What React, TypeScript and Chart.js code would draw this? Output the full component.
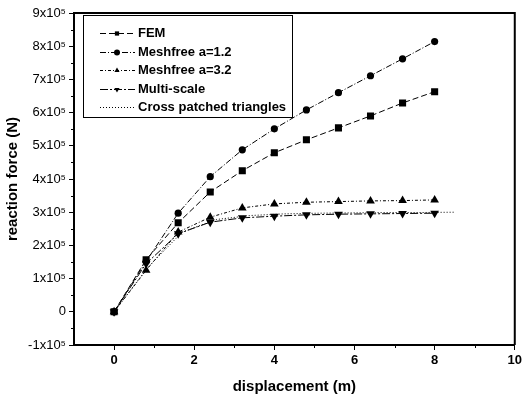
import React, { useEffect, useRef } from "react";
import { Chart, registerables } from "chart.js";

Chart.register(...registerables);

// ---- data ----
const displacement = [0, 0.8, 1.6, 2.4, 3.2, 4.0, 4.8, 5.6, 6.4, 7.2, 8.0];
const femForce = [0, 157000, 268000, 361000, 425000, 479000, 518000, 554000, 590000, 629000, 663000];
const meshfree12Force = [0, 152000, 297000, 407000, 488000, 551000, 608000, 660000, 711000, 762000, 814000];
const meshfree32Force = [0, 125000, 240000, 285000, 313000, 325000, 330000, 332000, 334000, 335000, 337000];
const multiScaleForce = [0, 145000, 235000, 270000, 283000, 288000, 292000, 294000, 295000, 296000, 297000];
const crossDisplacement = [0, 0.85, 1.7, 2.55, 3.4, 4.25, 5.1, 5.95, 6.8, 7.65, 8.5];
const crossForce = [0, 135000, 240000, 278000, 290000, 295000, 297000, 298000, 299000, 299000, 300000];

const seriesNames = ["FEM", "Meshfree a=1.2", "Meshfree a=3.2", "Multi-scale", "Cross patched triangles"];

const xTickValues = [0, 2, 4, 6, 8, 10];
const xTickLabels = ["0", "2", "4", "6", "8", "10"];
const xMinorTicks = [1, 3, 5, 7, 9];
const yTickValues = [-100000, 0, 100000, 200000, 300000, 400000, 500000, 600000, 700000, 800000, 900000];
const yTickLabels = ["-1x10⁵", "0", "1x10⁵", "2x10⁵", "3x10⁵", "4x10⁵", "5x10⁵", "6x10⁵", "7x10⁵", "8x10⁵", "9x10⁵"];
const yMinorTicks = [-50000, 50000, 150000, 250000, 350000, 450000, 550000, 650000, 750000, 850000];

const FONT = "'Liberation Sans', Arial, sans-serif";

const toPoints = (xs: number[], ys: number[]) => xs.map((x, i) => ({ x, y: ys[i] }));

function drawMarker(ctx: CanvasRenderingContext2D, style: string, rot: number, x: number, y: number, r: number) {
  ctx.save();
  ctx.setLineDash([]);
  ctx.fillStyle = "#000";
  ctx.beginPath();
  if (style === "rect") {
    const s = r * Math.SQRT1_2;
    ctx.rect(x - s, y - s, 2 * s, 2 * s);
  } else if (style === "circle") {
    ctx.arc(x, y, r, 0, Math.PI * 2);
  } else if (style === "triangle") {
    const d = rot === 180 ? -1 : 1;
    ctx.moveTo(x, y - d * r);
    ctx.lineTo(x + r * 0.866, y + d * r * 0.5);
    ctx.lineTo(x - r * 0.866, y + d * r * 0.5);
    ctx.closePath();
  }
  ctx.fill();
  ctx.restore();
}

const decorPlugin = {
  id: "decor",
  afterDraw(chart: any) {
    const { ctx, chartArea } = chart;
    const xs = chart.scales.x;
    const ys = chart.scales.y;
    ctx.save();
    ctx.strokeStyle = "#000";
    // frame top & right
    ctx.lineWidth = 2;
    ctx.beginPath();
    ctx.moveTo(chartArea.left, chartArea.top);
    ctx.lineTo(chartArea.right, chartArea.top);
    ctx.lineTo(chartArea.right, chartArea.bottom);
    ctx.stroke();
    // minor ticks
    ctx.lineWidth = 1;
    ctx.beginPath();
    xMinorTicks.forEach((v) => {
      const px = Math.round(xs.getPixelForValue(v)) + 0.5;
      ctx.moveTo(px, chartArea.bottom);
      ctx.lineTo(px, chartArea.bottom + 3);
    });
    yMinorTicks.forEach((v) => {
      const py = Math.round(ys.getPixelForValue(v)) + 0.5;
      ctx.moveTo(chartArea.left, py);
      ctx.lineTo(chartArea.left - 3, py);
    });
    ctx.stroke();

    // legend
    const left = chartArea.left + 9;
    const top = chartArea.top + 2;
    const w = 209;
    const h = 102;
    ctx.fillStyle = "#fff";
    ctx.fillRect(left, top, w, h);
    ctx.lineWidth = 1;
    ctx.strokeRect(left + 0.5, top + 0.5, w, h);
    ctx.font = `bold 13px ${FONT}`;
    ctx.textBaseline = "middle";
    ctx.textAlign = "left";
    chart.data.datasets.forEach((ds: any, i: number) => {
      const y = Math.round(top + 18 + i * 18.5) + 0.5;
      ctx.strokeStyle = "#000";
      ctx.lineWidth = 1;
      ctx.setLineDash(ds.borderDash || []);
      ctx.beginPath();
      ctx.moveTo(left + 17, y);
      ctx.lineTo(left + 52, y);
      ctx.stroke();
      ctx.setLineDash([]);
      if (ds.pointRadius > 0) {
        drawMarker(ctx, ds.pointStyle, ds.pointRotation || 0, left + 34, y, 3);
      }
      ctx.fillStyle = "#000";
      ctx.fillText(ds.label, left + 55, y);
    });
    ctx.restore();
  },
};

export default function App() {
  const ref = useRef<HTMLCanvasElement>(null);
  useEffect(() => {
    if (!ref.current) return;
    const common = {
      borderColor: "#000",
      backgroundColor: "#000",
      borderWidth: 1,
      pointBackgroundColor: "#000",
      pointBorderColor: "#000",
      pointBorderWidth: 0,
      showLine: true,
      tension: 0,
    };
    const chart = new Chart(ref.current, {
      type: "scatter",
      data: {
        datasets: [
          { ...common, label: seriesNames[0], data: toPoints(displacement, femForce), pointStyle: "rect", pointRadius: 5, borderDash: [6, 3] },
          { ...common, label: seriesNames[1], data: toPoints(displacement, meshfree12Force), pointStyle: "circle", pointRadius: 3.6, borderDash: [6, 2, 1, 2] },
          { ...common, label: seriesNames[2], data: toPoints(displacement, meshfree32Force), pointStyle: "triangle", pointRadius: 5, borderDash: [3, 2, 1, 2] },
          { ...common, label: seriesNames[3], data: toPoints(displacement, multiScaleForce), pointStyle: "triangle", pointRotation: 180, pointRadius: 5, borderDash: [8, 2, 2, 2] },
          { ...common, label: seriesNames[4], data: toPoints(crossDisplacement, crossForce), pointRadius: 0, borderDash: [1, 2] },
        ],
      },
      options: {
        animation: false,
        responsive: false,
        maintainAspectRatio: false,
        layout: { padding: { left: 0, top: 13, right: 8, bottom: 0 } },
        plugins: { legend: { display: false }, tooltip: { enabled: false } },
        scales: {
          x: {
            type: "linear",
            min: -1,
            max: 10,
            afterFit: (s: any) => { s.height = 56; },
            afterBuildTicks: (s: any) => { s.ticks = xTickValues.map((v) => ({ value: v })); },
            grid: { display: true, drawOnChartArea: false, drawTicks: true, tickLength: 5, color: "#000", lineWidth: 1 },
            border: { display: true, color: "#000", width: 2 },
            ticks: {
              color: "#000",
              padding: 3,
              maxRotation: 0,
              font: { family: FONT, size: 13, weight: "bold" },
              callback: (v: any) => { const i = xTickValues.indexOf(Number(v)); return i >= 0 ? xTickLabels[i] : ""; },
            },
            title: { display: true, text: "displacement (m)", color: "#000", font: { family: FONT, size: 15, weight: "bold" }, padding: { top: 0, bottom: 5 } },
          },
          y: {
            type: "linear",
            min: -100000,
            max: 900000,
            afterFit: (s: any) => { s.width = 74; },
            afterBuildTicks: (s: any) => { s.ticks = yTickValues.map((v) => ({ value: v })); },
            grid: { display: true, drawOnChartArea: false, drawTicks: true, tickLength: 5, color: "#000", lineWidth: 1 },
            border: { display: true, color: "#000", width: 2 },
            ticks: {
              color: "#000",
              padding: 3,
              font: { family: FONT, size: 13 },
              callback: (v: any) => { const i = yTickValues.indexOf(Number(v)); return i >= 0 ? yTickLabels[i] : ""; },
            },
            title: { display: true, text: "reaction force (N)", color: "#000", font: { family: FONT, size: 15, weight: "bold" }, padding: { top: 4, bottom: 0 } },
          },
        },
      },
      plugins: [decorPlugin],
    } as any);
    return () => chart.destroy();
  }, []);
  return (
    <div style={{ position: "fixed", left: 0, top: 0, width: 525, height: 401, background: "#fff" }}>
      <canvas ref={ref} width={525} height={401} style={{ display: "block" }} />
    </div>
  );
}
